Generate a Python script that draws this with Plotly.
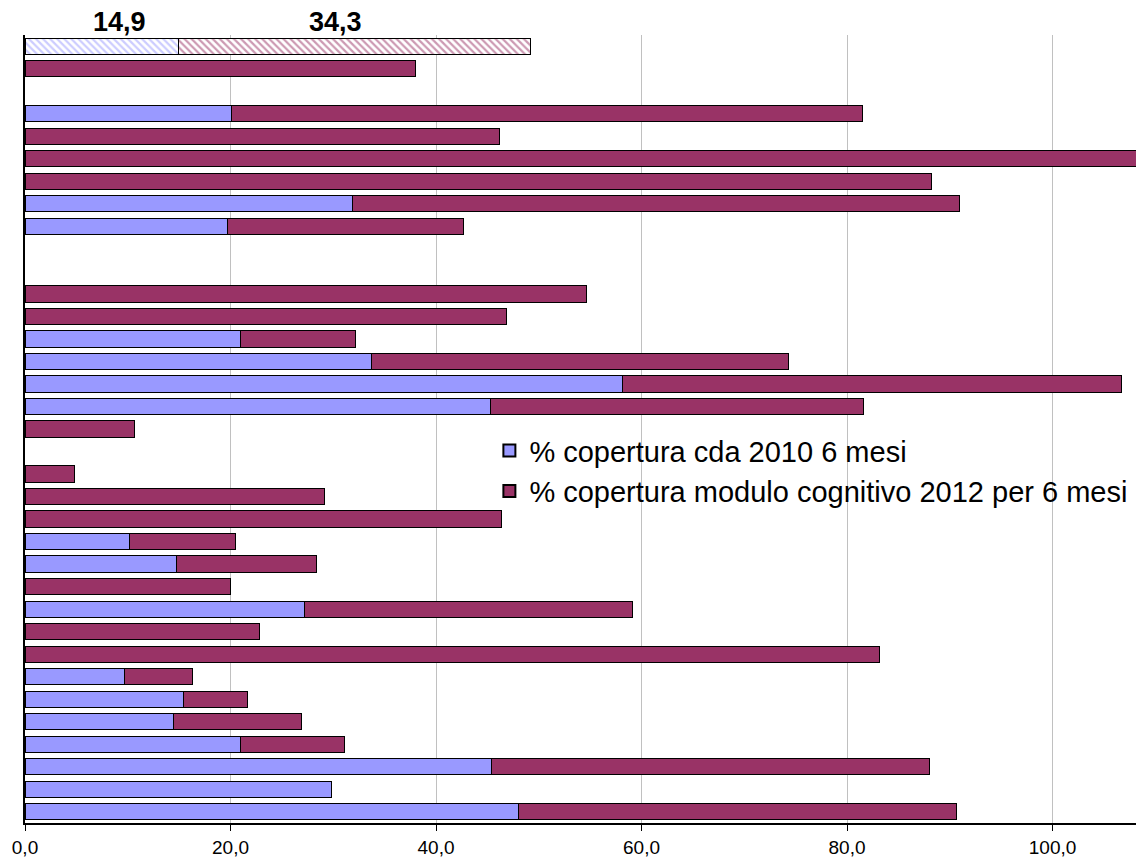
import plotly.graph_objects as go

rows = [f"r{i}" for i in range(1, 36)]

cda_2010 = [None, None, None, 20.1, None, None, None, 31.9, 19.7, None,
            None, None, None, 21.0, 33.7, 58.1, 45.3, None, None, None,
            None, None, 10.2, 14.7, None, 27.2, None, None, 9.7, 15.4,
            14.5, 21.0, 45.4, 29.8, 48.0]

modulo_2012 = [None, 38.0, None, 61.4, 46.2, 112.0, 88.2, 59.0, 23.0, None,
               None, 54.6, 46.9, 11.2, 40.6, 48.6, 36.3, 10.7, None, 4.8,
               29.1, 46.4, 10.3, 13.7, 20.0, 31.9, 22.8, 83.2, 6.6, 6.3,
               12.4, 10.1, 42.6, None, 42.7]

# hatched summary row (first row)
summary_row = ["r1"]
summary_cda = [14.9]
summary_mod = [34.3]
summary_labels = ["14,9", "34,3"]
summary_label_x = [9.2, 30.2]

tick_vals = [0, 20, 40, 60, 80, 100]
tick_text = ["0,0", "20,0", "40,0", "60,0", "80,0", "100,0"]

names = ["% copertura cda 2010 6 mesi",
         "% copertura modulo cognitivo 2012 per 6 mesi"]

BLUE = "#9999FF"
MAROON = "#993366"

fig = go.Figure()

fig.add_trace(go.Bar(
    y=summary_row, x=summary_cda, orientation="h", showlegend=False,
    marker=dict(color="white", line=dict(color="#000000", width=1),
                pattern=dict(shape="\\", fgcolor=BLUE, bgcolor="white",
                             size=5, solidity=0.45)),
    width=0.72, hoverinfo="skip"))
fig.add_trace(go.Bar(
    y=summary_row, x=summary_mod, orientation="h", showlegend=False,
    marker=dict(color="white", line=dict(color="#000000", width=1),
                pattern=dict(shape="\\", fgcolor=MAROON, bgcolor="white",
                             size=5, solidity=0.45)),
    width=0.72, hoverinfo="skip"))

fig.add_trace(go.Bar(
    y=rows, x=cda_2010, orientation="h", name=names[0],
    marker=dict(color=BLUE, line=dict(color="#000000", width=1)),
    width=0.72))
fig.add_trace(go.Bar(
    y=rows, x=modulo_2012, orientation="h", name=names[1],
    marker=dict(color=MAROON, line=dict(color="#000000", width=1)),
    width=0.72))

for txt, xv in zip(summary_labels, summary_label_x):
    fig.add_annotation(x=xv, y=1.0165, xref="x", yref="paper",
                       text=f"<b>{txt}</b>", showarrow=False,
                       xanchor="center", yanchor="middle",
                       font=dict(family="Liberation Sans, Arial", size=27,
                                 color="#000000"))

fig.update_layout(
    width=1136, height=852,
    barmode="stack",
    separators=",.",
    paper_bgcolor="white", plot_bgcolor="white",
    margin=dict(l=17, r=0, t=27, b=37, autoexpand=False),
    font=dict(family="Liberation Sans, Arial", color="#000000"),
    legend=dict(x=0.415, y=0.505, xanchor="left", yanchor="top",
                bgcolor="rgba(0,0,0,0)", traceorder="normal",
                font=dict(size=29, family="Liberation Sans, Arial"),
                itemsizing="constant"),
    bargap=0.28,
)

fig.update_xaxes(
    range=[0, 108.9], tickvals=tick_vals, ticktext=tick_text,
    showgrid=True, gridcolor="#c0c0c0", gridwidth=1,
    showline=True, linecolor="#000000", linewidth=2,
    ticks="outside", ticklen=6, tickcolor="#000000",
    tickfont=dict(size=19, family="Liberation Sans Narrow, Liberation Sans, Arial"),
    zeroline=False, automargin=False,
)
fig.update_yaxes(
    categoryorder="array", categoryarray=rows, autorange="reversed",
    showticklabels=False, showgrid=False, ticks="",
    showline=True, linecolor="#000000", linewidth=2, automargin=False,
)

fig.write_html("out.html")
